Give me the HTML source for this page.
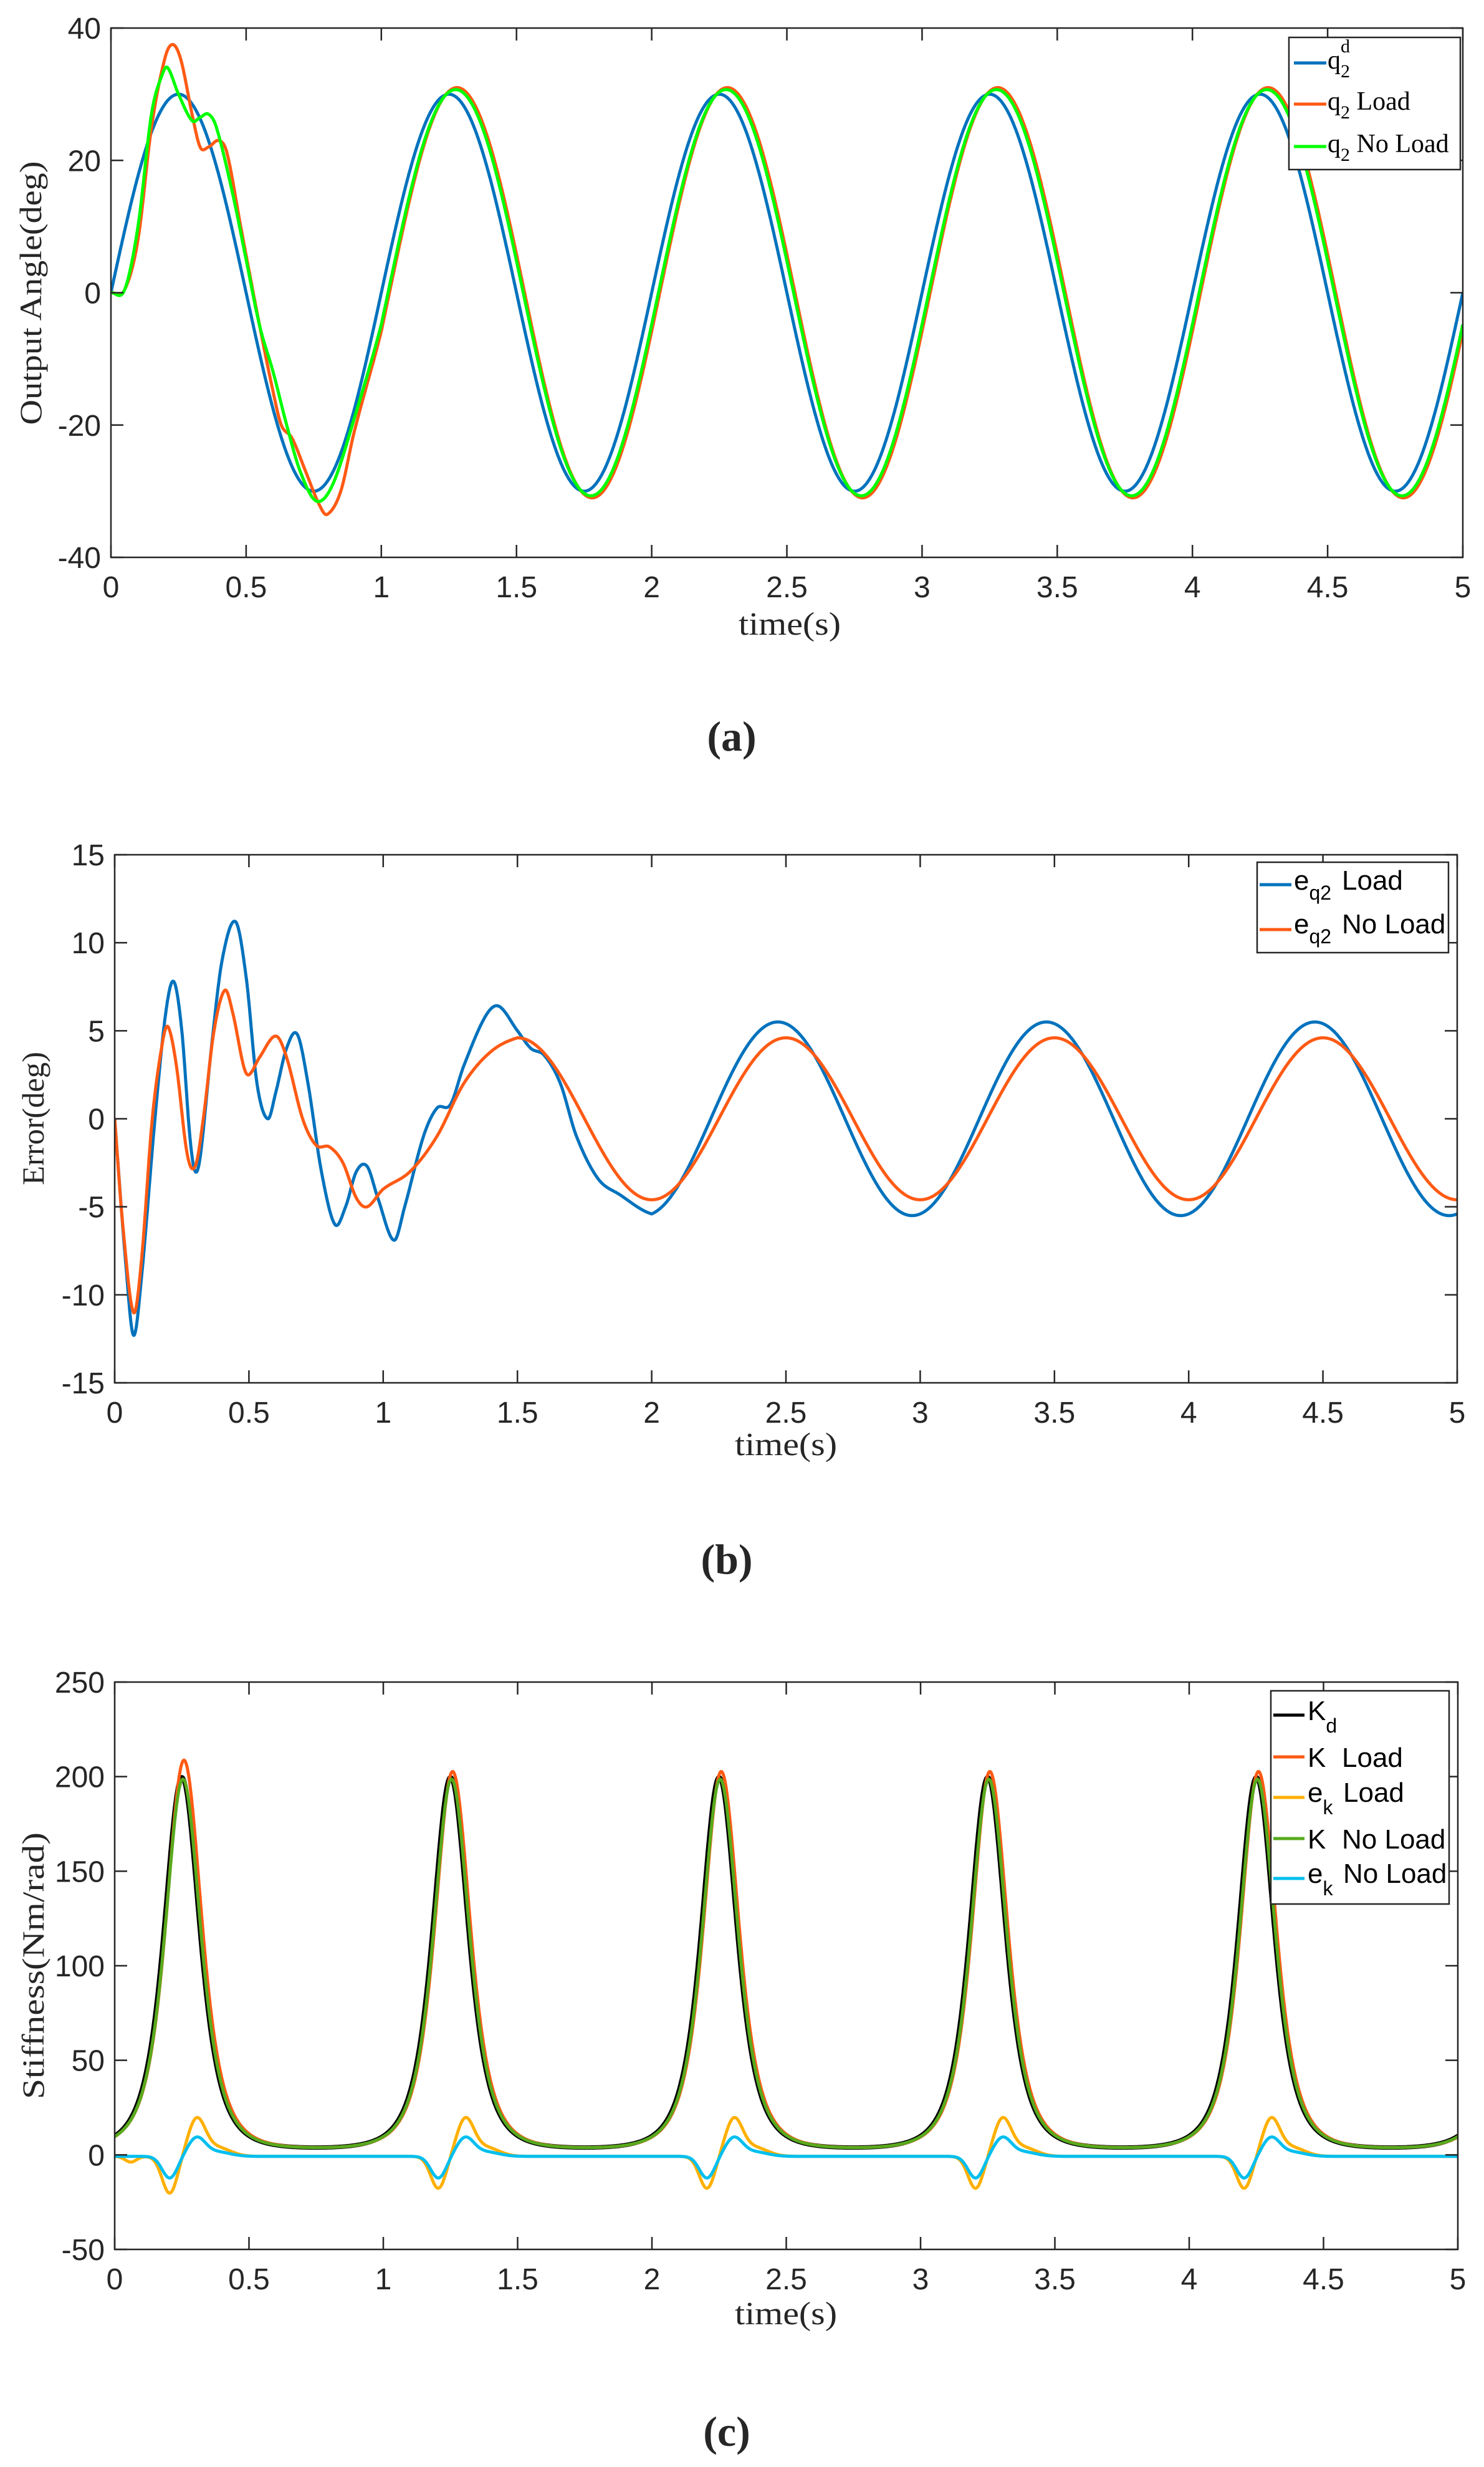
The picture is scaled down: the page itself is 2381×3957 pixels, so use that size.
<!DOCTYPE html>
<html><head><meta charset="utf-8">
<style>
html,body{margin:0;padding:0;background:#fff;}
svg{display:block;}
.tk{font-family:"Liberation Sans",sans-serif;font-size:48px;fill:#262626;}
.ser{font-family:"Liberation Serif",serif;fill:#262626;}
.lg{font-family:"Liberation Sans",sans-serif;font-size:44px;fill:#000;}
.lgs{font-family:"Liberation Serif",serif;font-size:42px;fill:#000;}
</style></head>
<body>
<svg id="s" width="2381" height="3957" viewBox="0 0 2381 3957" xmlns="http://www.w3.org/2000/svg">
<rect width="2381" height="3957" fill="#fff"/>
<defs>
<clipPath id="ca"><rect x="178" y="45" width="2169" height="849"/></clipPath>
<clipPath id="cb"><rect x="184" y="1371" width="2154" height="847"/></clipPath>
<clipPath id="cc"><rect x="184" y="2698" width="2155" height="910"/></clipPath>
</defs>
<g id="g"></g>

<text class="ser" x="1267" y="1018" font-size="52" text-anchor="middle" textLength="164" lengthAdjust="spacingAndGlyphs">time(s)</text>
<text class="ser" x="1174" y="1204" font-size="68" font-weight="bold" text-anchor="middle" fill="#000">(a)</text>
<text class="ser" transform="translate(66,470) rotate(-90)" font-size="50" text-anchor="middle" textLength="423" lengthAdjust="spacingAndGlyphs">Output Angle(deg)</text>

<text class="ser" x="1261" y="2334" font-size="52" text-anchor="middle" textLength="164" lengthAdjust="spacingAndGlyphs">time(s)</text>
<text class="ser" x="1166" y="2524" font-size="68" font-weight="bold" text-anchor="middle" fill="#000">(b)</text>
<text class="ser" transform="translate(70,1794) rotate(-90)" font-size="50" text-anchor="middle" textLength="214" lengthAdjust="spacingAndGlyphs">Error(deg)</text>

<text class="ser" x="1261" y="3728" font-size="52" text-anchor="middle" textLength="164" lengthAdjust="spacingAndGlyphs">time(s)</text>
<text class="ser" x="1166" y="3923" font-size="68" font-weight="bold" text-anchor="middle" fill="#000">(c)</text>
<text class="ser" transform="translate(70,3153) rotate(-90)" font-size="50" text-anchor="middle" textLength="428" lengthAdjust="spacingAndGlyphs">Stiffness(Nm/rad)</text>

<rect x="2068" y="60" width="275" height="212" fill="#fff" stroke="#262626" stroke-width="2.5"/>
<line x1="2076" y1="101" x2="2128" y2="101" stroke="#0072BD" stroke-width="5"/>
<text class="lgs" x="2130" y="110">q<tspan font-size="30" dy="14">2</tspan><tspan font-size="30" dx="-15" dy="-40">d</tspan></text>
<line x1="2076" y1="167" x2="2128" y2="167" stroke="#FF5A14" stroke-width="5"/>
<text class="lgs" x="2130" y="176">q<tspan font-size="30" dy="14">2</tspan><tspan dy="-14"> Load</tspan></text>
<line x1="2076" y1="235" x2="2128" y2="235" stroke="#00FF00" stroke-width="5"/>
<text class="lgs" x="2130" y="244">q<tspan font-size="30" dy="14">2</tspan><tspan dy="-14"> No Load</tspan></text>

<rect x="2017" y="1383" width="307" height="145" fill="#fff" stroke="#262626" stroke-width="2.5"/>
<line x1="2021" y1="1419" x2="2072" y2="1419" stroke="#0072BD" stroke-width="5"/>
<text class="lg" x="2076" y="1427">e<tspan font-size="32" dy="16">q2</tspan><tspan dy="-16" x="2153">Load</tspan></text>
<line x1="2021" y1="1491" x2="2072" y2="1491" stroke="#FF5A14" stroke-width="5"/>
<text class="lg" x="2076" y="1497">e<tspan font-size="32" dy="16">q2</tspan><tspan dy="-16" x="2153">No Load</tspan></text>

<rect x="2039" y="2712" width="286" height="342" fill="#fff" stroke="#262626" stroke-width="2.5"/>
<line x1="2043" y1="2751" x2="2093" y2="2751" stroke="#000" stroke-width="5"/>
<text class="lg" x="2098" y="2759">K<tspan font-size="32" dy="20">d</tspan></text>
<line x1="2043" y1="2818" x2="2093" y2="2818" stroke="#FF5A14" stroke-width="5"/>
<text class="lg" x="2098" y="2834">K<tspan x="2153">Load</tspan></text>
<line x1="2043" y1="2883" x2="2093" y2="2883" stroke="#FFB000" stroke-width="5"/>
<text class="lg" x="2098" y="2890">e<tspan font-size="32" dy="20">k</tspan><tspan dy="-20" x="2155">Load</tspan></text>
<line x1="2043" y1="2949" x2="2093" y2="2949" stroke="#58AA1E" stroke-width="5"/>
<text class="lg" x="2098" y="2965">K<tspan x="2153">No Load</tspan></text>
<line x1="2043" y1="3013" x2="2093" y2="3013" stroke="#00BFEF" stroke-width="5"/>
<text class="lg" x="2098" y="3020">e<tspan font-size="32" dy="20">k</tspan><tspan dy="-20" x="2155">No Load</tspan></text>
</svg>
<script>
(function(){
var NS="http://www.w3.org/2000/svg";
var g=document.getElementById('g');
var svg=document.getElementById('s');
var legendFirst=svg.querySelector('rect[x="2068"]');
function el(n,a,parent){var e=document.createElementNS(NS,n);for(var k in a)e.setAttribute(k,a[k]);(parent||g).appendChild(e);return e;}
function herm(p,t){
 var n=p.length;if(t<=p[0][0])return p[0][1];if(t>=p[n-1][0])return p[n-1][1];
 var i=0;while(i<n-2&&t>p[i+1][0])i++;
 function m(j){if(j<=0)return (p[1][1]-p[0][1])/(p[1][0]-p[0][0]);if(j>=n-1)return (p[n-1][1]-p[n-2][1])/(p[n-1][0]-p[n-2][0]);return (p[j+1][1]-p[j-1][1])/(p[j+1][0]-p[j-1][0]);}
 var t0=p[i][0],t1=p[i+1][0],h=t1-t0,s=(t-t0)/h,s2=s*s,s3=s2*s;
 return (2*s3-3*s2+1)*p[i][1]+(s3-2*s2+s)*h*m(i)+(-2*s3+3*s2)*p[i+1][1]+(s3-s2)*h*m(i+1);
}
function piece(pts,tsw,f){
 var q=pts.slice();q.push([tsw,f(tsw)]);q.push([tsw+0.04,f(tsw+0.04)]);q.push([tsw+0.08,f(tsw+0.08)]);
 return function(t){return t<tsw?herm(q,t):f(t);};
}
function axes(P,yt){
 var L=P.L,R=P.R,T=P.T,B=P.B;
 var ys=function(v){return B-(v-P.y0)/(P.y1-P.y0)*(B-T);};
 var d="";
 for(var i=0;i<=10;i++){var x=L+(R-L)*i/10;d+="M"+x+" "+B+"V"+(B-20)+"M"+x+" "+T+"V"+(T+20);
  el('text',{class:'tk',x:x,y:B+64,'text-anchor':'middle'}).textContent=String(i/2);}
 yt.forEach(function(v){var y=ys(v);d+="M"+L+" "+y+"H"+(L+20)+"M"+R+" "+y+"H"+(R-20);
  el('text',{class:'tk',x:L-16,y:y+17,'text-anchor':'end'}).textContent=String(v);});
 el('path',{d:d,stroke:'#262626','stroke-width':2.5,fill:'none'});
 el('rect',{x:L,y:T,width:R-L,height:B-T,fill:'none',stroke:'#262626','stroke-width':2.5});
}
function series(P,f,col,w,clip){
 var d="";var N=2500;
 for(var i=0;i<=N;i++){var t=5*i/N;var x=P.L+(P.R-P.L)*t/5;var y=P.B-(f(t)-P.y0)/(P.y1-P.y0)*(P.B-P.T);d+=(i?"L":"M")+x.toFixed(1)+" "+y.toFixed(1);}
 el('path',{d:d,stroke:col,'stroke-width':w,fill:'none','clip-path':'url(#'+clip+')','stroke-linejoin':'round'});
}
var PI2=2*Math.PI;
var A={L:178,R:2347,T:45,B:894,y0:-40,y1:40};
var qd=function(t){return 30*Math.sin(PI2*t);};
var qL=piece([[0,0],[0.05,0.4],[0.1,8],[0.15,25],[0.2,35.5],[0.23,37.5],[0.26,35],[0.3,27],[0.33,22],[0.36,22],[0.4,23],[0.43,21],[0.48,10],[0.55,-5],[0.6,-15],[0.63,-20],[0.67,-22],[0.72,-27],[0.77,-32],[0.8,-33.5],[0.85,-30],[0.9,-21]],1.0,function(t){return 31*Math.sin(PI2*(t-0.03));});
var qN=piece([[0,0],[0.05,0.4],[0.1,10],[0.15,27],[0.19,33],[0.21,34],[0.25,30],[0.3,26],[0.33,26.5],[0.36,27],[0.39,25],[0.45,15],[0.5,5],[0.55,-5],[0.6,-12],[0.65,-20],[0.7,-27],[0.76,-31.5],[0.82,-29],[0.9,-19]],1.0,function(t){return 30.7*Math.sin(PI2*(t-0.025));});
series(A,qd,'#0072BD',5,'ca');series(A,qL,'#FF5A14',5,'ca');series(A,qN,'#00FF00',5,'ca');
axes(A,[40,20,0,-20,-40]);
var Bp={L:184,R:2338,T:1371,B:2218,y0:-15,y1:15};
var eL=piece([[0,0],[0.04,-8],[0.07,-12.3],[0.1,-9],[0.15,0],[0.19,6],[0.22,7.8],[0.25,5],[0.28,-1],[0.3,-3],[0.32,-2],[0.36,4],[0.4,9],[0.45,11.2],[0.49,8],[0.53,2],[0.57,0],[0.6,1.5],[0.64,4],[0.68,4.8],[0.72,2],[0.77,-3],[0.82,-6],[0.86,-5],[0.9,-3],[0.94,-2.7],[0.98,-4.5],[1.04,-6.9],[1.08,-5],[1.15,-1],[1.2,0.6],[1.25,0.8],[1.3,3],[1.38,5.8],[1.43,6.4],[1.5,5],[1.55,4],[1.6,3.6],[1.66,2],[1.72,-1],[1.8,-3.4],[1.88,-4.3]],2.0,function(t){return 5.5*Math.cos(PI2*(t-0.47));});
var eN=piece([[0,0],[0.03,-6],[0.07,-11],[0.1,-8],[0.14,0],[0.18,4.5],[0.2,5.2],[0.23,3],[0.27,-2],[0.3,-2.7],[0.33,0],[0.37,5],[0.41,7.3],[0.44,6],[0.48,3],[0.5,2.5],[0.54,3.5],[0.6,4.7],[0.64,3.5],[0.7,0],[0.75,-1.5],[0.8,-1.6],[0.85,-2.5],[0.9,-4.5],[0.94,-5],[1.0,-4],[1.1,-3],[1.2,-1],[1.3,2],[1.4,3.8]],1.5,function(t){return 4.6*Math.cos(PI2*(t-0.5));});
series(Bp,eL,'#0072BD',5,'cb');series(Bp,eN,'#FF5A14',5,'cb');
axes(Bp,[15,10,5,0,-5,-10,-15]);
var C={L:184,R:2339,T:2698,B:3608,y0:-50,y1:250};
function K(t,sh,amp){var s=2.6;for(var n=-1;n<=6;n++){var d=(t-0.25-n-sh)/0.122;var q=1+d*d;s+=amp(n)/(q*q);}return s;}
var Kd=function(t){return K(t,0,function(){return 197;});};
var KL=function(t){return K(t,0.008,function(n){return n==0?206:200;});};
var KN=function(t){return K(t,0.004,function(){return 196;});};
function gs(x,w){return Math.exp(-(x/w)*(x/w));}
function ek(t,a1,a2,first){var s=-0.8;for(var n=0;n<=5;n++){var a=(n==0?first:1);s+=-a1*a*gs(t-0.205-n,0.04)+a2*gs(t-0.305-n,0.045)+a2*0.25*gs(t-0.38-n,0.07);}return s;}
var eKL=function(t){return ek(t,17,19,1.15)-3*gs(t-0.06,0.03);};
var eKN=function(t){return ek(t,11.5,9.5,1.0);};
series(C,Kd,'#000',7,'cc');series(C,KL,'#FF5A14',5,'cc');series(C,eKL,'#FFB000',5,'cc');series(C,KN,'#58AA1E',5,'cc');series(C,eKN,'#00BFEF',5,'cc');
axes(C,[250,200,150,100,50,0,-50]);
var nodes=[].slice.call(svg.childNodes);var start=false;
nodes.forEach(function(nd){if(nd===legendFirst)start=true;if(start)svg.appendChild(nd);});
})();
</script>
</body></html>
